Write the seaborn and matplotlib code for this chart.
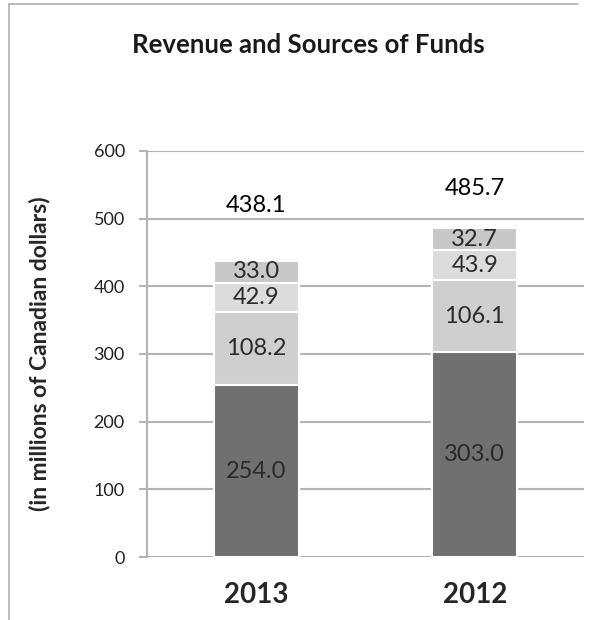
import matplotlib
import matplotlib.pyplot as plt
import numpy as np
import pandas as pd
import seaborn as sns

matplotlib.use('Agg')

# data (millions of CAD)
years = ["2013", "2012"]
seg_1 = [254.0, 303.0]   # bottom, dark
seg_2 = [108.2, 106.1]
seg_3 = [42.9, 43.9]
seg_4 = [33.0, 32.7]     # top
totals = [438.1, 485.7]

segments = [seg_1, seg_2, seg_3, seg_4]
colors = ["#707070", "#cfcfcf", "#dcdcdc", "#c8c8c8"]

sns.set_theme(style="white")
plt.rcParams['font.family'] = ['Lato', 'DejaVu Sans']

fig = plt.figure(figsize=(6.16, 6.2), dpi=100)
ax = fig.add_axes([0.2386, 0.1016, 0.7094, 0.6549])

# stacked bars: draw cumulative heights from the top segment down
cum = np.cumsum(np.array(segments), axis=0)
for i in range(len(segments) - 1, -1, -1):
    df = pd.DataFrame({"year": years, "value": cum[i]})
    sns.barplot(data=df, x="year", y="value", order=years, color=colors[i],
                width=0.39, edgecolor="white", linewidth=1.5, saturation=1,
                ax=ax, zorder=3)

# segment labels
for j in range(len(years)):
    bottom = 0
    for seg in segments:
        v = seg[j]
        ax.text(j, bottom + v / 2, f"{v:.1f}", ha="center", va="center",
                fontsize=17, color="#2a2a2a", zorder=5)
        bottom += v

# total labels above bars
total_y = [520, 545]
for j, t in enumerate(totals):
    ax.text(j, total_y[j], f"{t:.1f}", ha="center", va="center",
            fontsize=17, color="black", zorder=5)

ax.set_xlim(-0.5, 1.5)
ax.set_ylim(0, 600)
ax.set_yticks(range(0, 601, 100))
ax.yaxis.grid(True, color="#b4b4b4", linewidth=1.5, zorder=0)
ax.set_axisbelow(True)
for s in ["top", "right", "bottom"]:
    ax.spines[s].set_visible(False)
ax.spines["left"].set_color("#b4b4b4")
ax.spines["left"].set_linewidth(1.5)
ax.tick_params(axis="y", left=True, length=6, width=1.5, color="#b4b4b4",
               labelsize=13, labelcolor="#222222", pad=10)
ax.tick_params(axis="x", bottom=False, labelsize=20, pad=12)
for lab in ax.get_xticklabels():
    lab.set_fontweight("bold")
ax.set_xlabel("")
ax.set_ylabel("(in millions of Canadian dollars)", fontsize=16.5,
              fontweight="bold")
ax.yaxis.set_label_coords(-0.222, 0.5)

fig.text(0.5, 0.927, "Revenue and Sources of Funds", ha="center", va="center",
         fontsize=18.5, fontweight="bold", color="#1a1a1a")

# partial grey frame (top and left edge of the original box)
fig.add_artist(plt.Line2D([9 / 616, 578 / 616], [1 - 4 / 620, 1 - 4 / 620],
                          color="#b0b0b0", linewidth=1.2))
fig.add_artist(plt.Line2D([9 / 616, 9 / 616], [0, 1 - 4 / 620],
                          color="#b0b0b0", linewidth=1.2))

plt.savefig("out.png", dpi=100)
